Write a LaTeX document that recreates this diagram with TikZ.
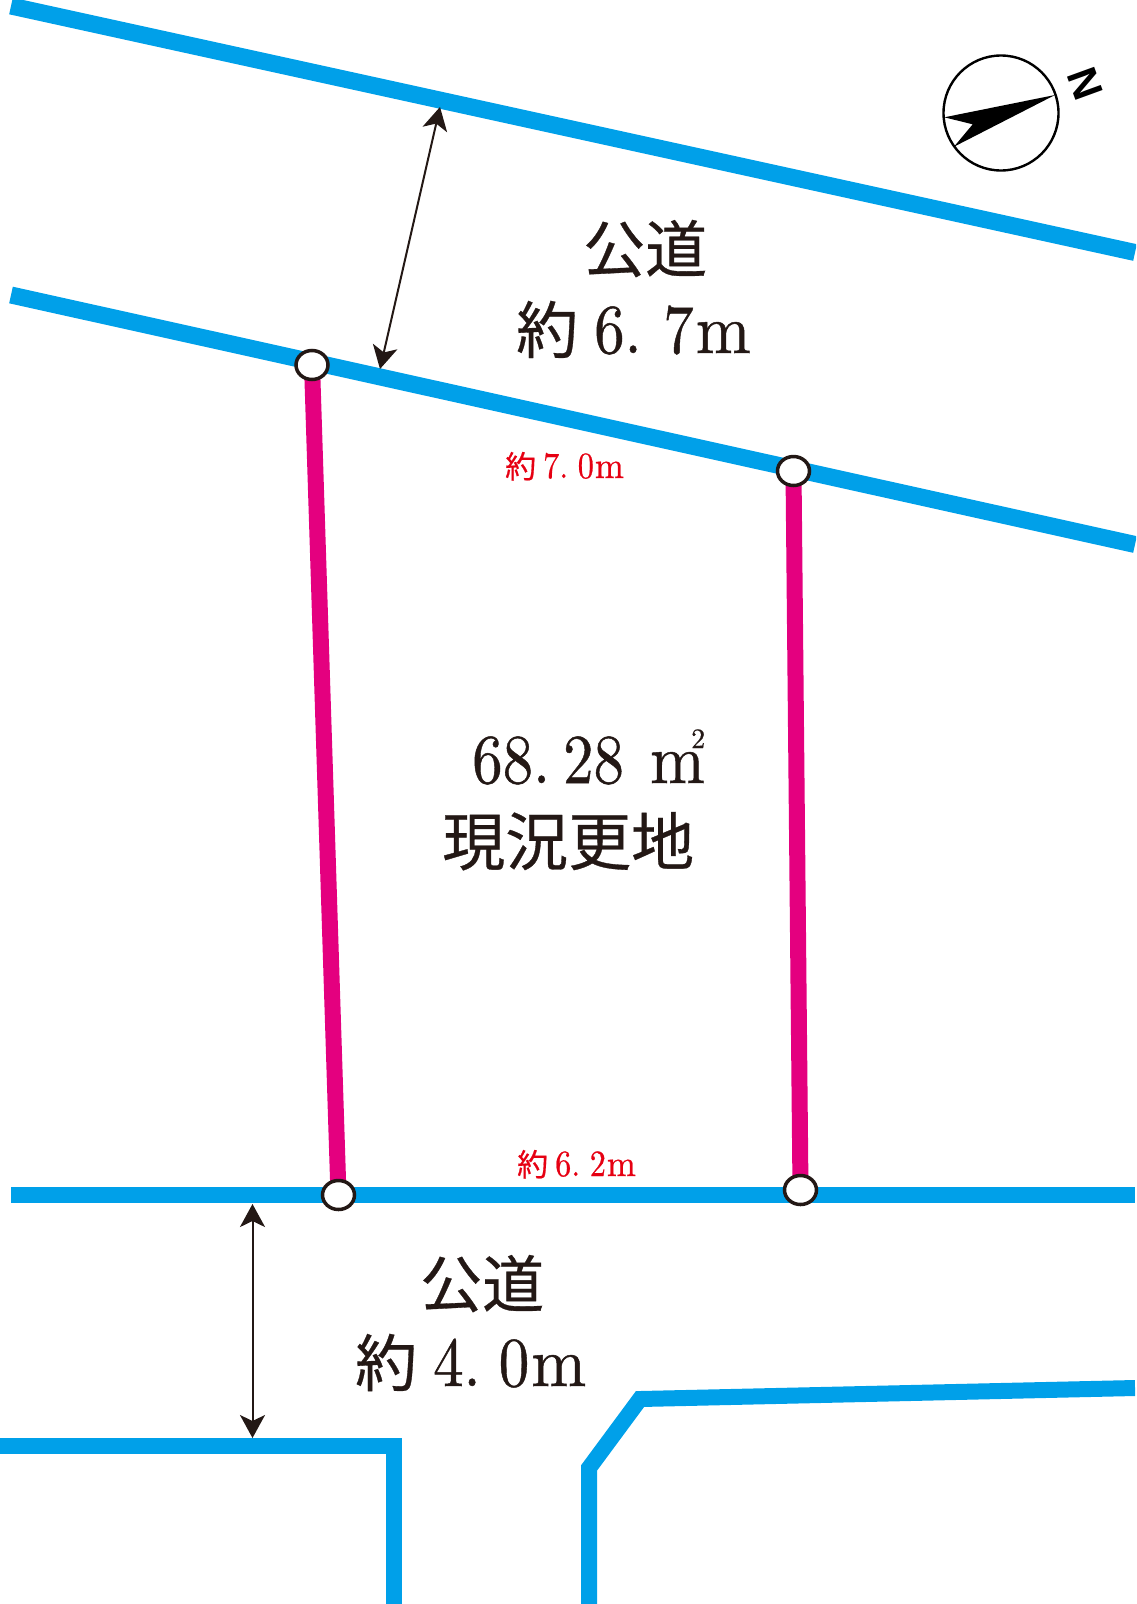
\documentclass[tikz,border=0pt]{standalone}
\usepackage{fontspec}
\usetikzlibrary{arrows.meta,shapes.geometric}
\newfontfamily\cjk[FakeBold=0.5]{Noto Sans CJK JP}
\newfontfamily\nfont{Liberation Sans}
\newfontfamily\ltfont[FakeBold=0.7]{lmroman10-regular.otf}
\definecolor{roadblue}{HTML}{00A0E9}
\definecolor{lotpink}{HTML}{E4007F}
\definecolor{dimred}{HTML}{E60012}
\definecolor{ink}{HTML}{231815}
\newcommand\kj[2]{{\cjk\fontsize{#1}{#1}\selectfont #2}}
\newcommand\lt[2]{\scalebox{.87}[1]{\ltfont\fontsize{#1}{#1}\selectfont #2}}
\newcommand\lm[1]{\scalebox{.94}[1]{\ltfont\fontsize{#1}{#1}\selectfont m}}
\tikzset{
  road/.style={draw=roadblue,line width=16pt,line join=miter},
  slantroad/.style={draw=roadblue,line width=17pt},
  lot/.style={draw=lotpink,line width=16pt},
  pin/.style={ellipse,draw=ink,fill=white,line width=3.5pt,minimum width=32pt,minimum height=29pt,inner sep=0pt},
  dim/.style={draw=ink,line width=2pt,{Stealth[length=23pt,width=25pt,inset=6pt]}-{Stealth[length=23pt,width=25pt,inset=6pt]},shorten >=0pt,shorten <=0pt},
  big/.style={anchor=base west,inner sep=0pt,text=ink},
  small/.style={anchor=base west,inner sep=0pt,text=dimred},
}
\begin{document}
\begin{tikzpicture}[x=1pt,y=-1pt]
\useasboundingbox (0,0) rectangle (1136,1604);
\clip (0,0) rectangle (1136,1604);
% road coordinates
\coordinate (ra1) at (11,6);
\coordinate (ra2) at (1135,252.5);
\coordinate (rb1) at (11,295);
\coordinate (rb2) at (1135,544.5);
\coordinate (rc1) at (11,1195);
\coordinate (rc2) at (1135,1195);
\coordinate (rd1) at (0,1446);
\coordinate (rd2) at (394,1446);
\coordinate (rd3) at (394,1604);
\coordinate (re1) at (589,1604);
\coordinate (re2) at (589,1468);
\coordinate (re3) at (640,1399);
\coordinate (re4) at (1135,1388);
\draw[slantroad] (ra1) -- (ra2);
\draw[slantroad] (rb1) -- (rb2);
\draw[road] (rc1) -- (rc2);
\draw[road] (rd1) -- (rd2) -- (rd3);
\draw[road] (re1) -- (re2) -- (re3) -- (re4);
% lot corners
\node[pin,draw=none,fill=none] (p1) at (312,365) {};
\node[pin,draw=none,fill=none] (p2) at (793.5,471) {};
\node[pin,draw=none,fill=none] (p3) at (338.5,1195) {};
\node[pin,draw=none,fill=none] (p4) at (800.5,1190) {};
\draw[lot] (p1.center) -- (p3.center);
\draw[lot] (p2.center) -- (p4.center);
\node[pin] (c1) at (p1) {};
\node[pin] (c2) at (p2) {};
\node[pin] (c3) at (p3) {};
\node[pin] (c4) at (p4) {};
% dimension arrows
\coordinate (da1) at (440,107);
\coordinate (da2) at (380,369);
\coordinate (db1) at (252.5,1204);
\coordinate (db2) at (252.5,1438);
\draw[dim] (da1) -- (da2);
\draw[dim] (db1) -- (db2);
% compass
\node[circle,draw=black,line width=2.4pt,minimum size=115pt,inner sep=0pt] (comp) at (1001,113) {};
\fill[black] (1055,95) -- (944.3,117.3) -- (972.7,124.3) -- (954,146.7) -- cycle;
\node[inner sep=0pt,rotate=-70,text=black] (north) at (1085,84) {\nfont\bfseries\fontsize{42}{42}\selectfont N};
% labels
\node[big] (t1) at (583,272) {\kj{62}{公道}};
\node[big] (t2) at (516,353) {\kj{62}{約}\hspace{16pt}\lt{70}{6.\hspace{25pt}7}\hspace{2pt}\lm{70}};
\node[big] (t3) at (472,783) {\lt{70}{68.\hspace{15pt}28}\hspace{26pt}\lm{70}};
\node[big] (t3b) at (691,748) {\ltfont\fontsize{28}{28}\selectfont 2};
\node[big] (t4) at (442,865) {\kj{63}{現況更地}};
\node[big] (t5) at (420,1307) {\kj{62}{公道}};
\node[big] (t6) at (355,1386) {\kj{62}{約}\hspace{16pt}\lt{70}{4.\hspace{21pt}0}\hspace{2pt}\lm{70}};
\node[small] (t7) at (505,478) {\kj{31}{約}\hspace{7pt}\lt{37}{7.\hspace{11pt}0}\hspace{1pt}\lm{37}};
\node[small] (t8) at (517,1176) {\kj{31}{約}\hspace{7pt}\lt{37}{6.\hspace{11pt}2}\hspace{1pt}\lm{37}};
\end{tikzpicture}
\end{document}
